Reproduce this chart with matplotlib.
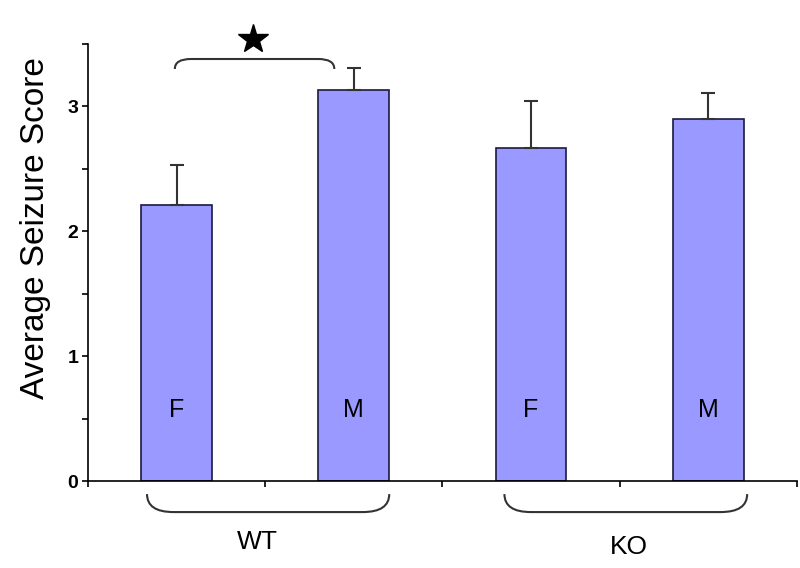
import matplotlib.pyplot as plt
from matplotlib.path import Path
from matplotlib.patches import PathPatch

plt.rcParams['font.family'] = ['Liberation Sans', 'DejaVu Sans']

# Data
groups = ['WT', 'WT', 'KO', 'KO']
sexes = ['F', 'M', 'F', 'M']
means = [2.21, 3.13, 2.67, 2.90]
errors = [0.32, 0.18, 0.37, 0.21]
group_names = ['WT', 'KO']

x = list(range(len(means)))

fig = plt.figure(figsize=(8, 5.68), dpi=100)
ax = fig.add_axes([0.11, 0.153, 0.886, 0.7695])

ax.bar(x, means, width=0.4, color='#9999ff', edgecolor='#1a1a40', linewidth=1.2,
       yerr=[[0] * len(errors), errors], capsize=5,
       error_kw=dict(ecolor='#333333', elinewidth=1.5, capthick=1.5))

# bar labels
for xi, s in zip(x, sexes):
    ax.text(xi, 0.57, s, ha='center', va='center', fontsize=18)

ax.set_xlim(-0.5, 3.5)
ax.set_ylim(0, 3.5)
ax.set_xticks([-0.5, 0.5, 1.5, 2.5, 3.5])
ax.set_xticklabels([])
ax.set_yticks([0, 1, 2, 3])
ax.set_yticks([0.5, 1.5, 2.5, 3.5], minor=True)
ax.tick_params(axis='y', which='both', direction='out', length=4, width=1.2,
               labelsize=14, pad=3)
ax.tick_params(axis='x', direction='out', length=4, width=1.2)
for lab in ax.get_yticklabels():
    lab.set_fontweight('bold')
ax.spines['top'].set_visible(False)
ax.spines['right'].set_visible(False)
ax.spines['left'].set_linewidth(1.2)
ax.spines['bottom'].set_linewidth(1.2)
ax.set_ylabel('Average Seizure Score', fontsize=24)
ax.yaxis.set_label_coords(-0.052, 0.58)


def bracket(x0, x1, y_end, y_flat, r=0.12):
    # rounded bracket: ends at y_end, flat part at y_flat
    verts = [(x0, y_end), (x0, y_flat), (x0 + r, y_flat),
             (x1 - r, y_flat), (x1, y_flat), (x1, y_end)]
    codes = [Path.MOVETO, Path.CURVE3, Path.CURVE3,
             Path.LINETO, Path.CURVE3, Path.CURVE3]
    ax.add_patch(PathPatch(Path(verts, codes), fill=False, edgecolor='#333333',
                           linewidth=1.5, clip_on=False))


# significance bracket
bracket(-0.01, 0.89, 3.30, 3.38, r=0.09)
ax.plot([0.43], [3.54], marker='*', markersize=22, color='black', clip_on=False)

# group brackets
bracket(-0.167, 1.20, -0.104, -0.248, r=0.15)
bracket(1.85, 3.22, -0.104, -0.248, r=0.15)
ax.text(0.455, -0.49, group_names[0], ha='center', va='center', fontsize=19)
ax.text(2.55, -0.53, group_names[1], ha='center', va='center', fontsize=19)

fig.savefig('out.png', dpi=100)
